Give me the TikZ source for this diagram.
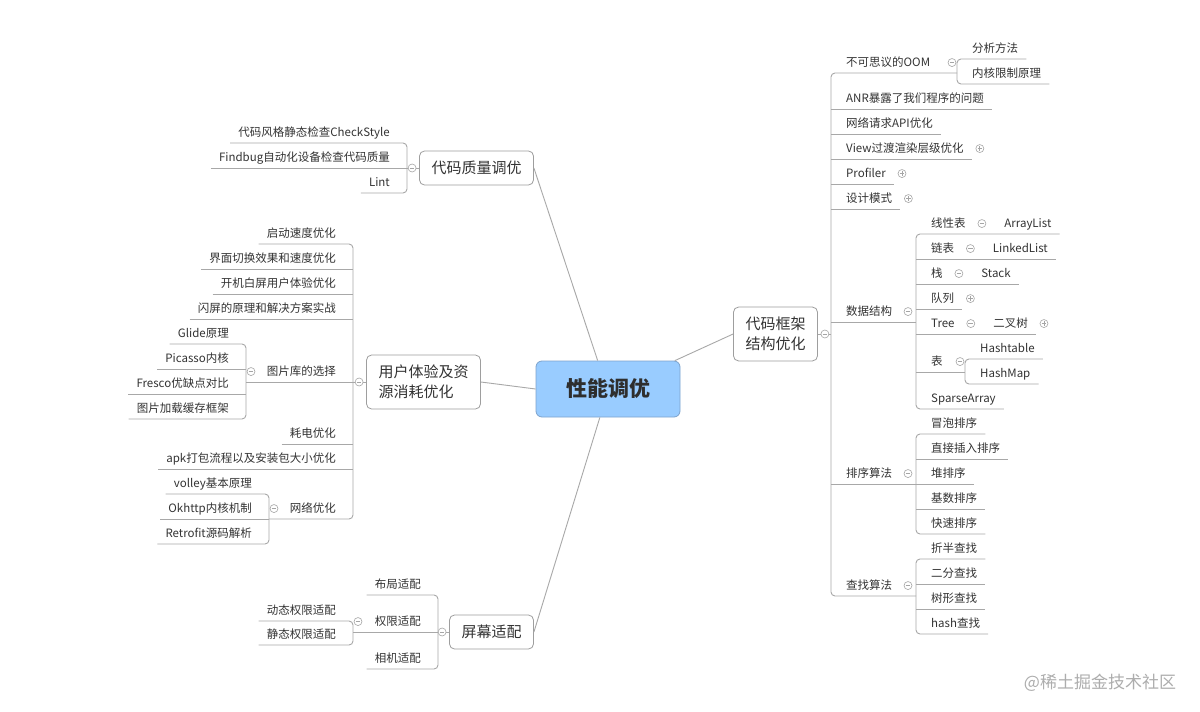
\documentclass[tikz,border=0pt]{standalone}
\usepackage{fontspec}
\setmainfont{Noto Sans CJK SC}
\usetikzlibrary{positioning,calc}
\definecolor{txt}{HTML}{333333}
\definecolor{ln}{HTML}{A8A8A8}
\definecolor{bx}{HTML}{9E9E9E}
\definecolor{fd}{HTML}{A5A5A5}
\definecolor{rootfill}{HTML}{99CCFF}
\definecolor{rootline}{HTML}{7DA3CC}
\tikzset{
  branch/.style={draw=ln, line width=0.9},
  rootbox/.style={draw=rootline, fill=rootfill, rounded corners=6, line width=0.8,
    minimum width=144, minimum height=56, text=txt!90!black,
    font=\fontsize{21}{24}\selectfont\bfseries},
  topic/.style={draw=bx, fill=white, rounded corners=5, line width=0.8, text=txt,
    font=\fontsize{15}{20}\selectfont, inner xsep=12, inner ysep=9, minimum height=34},
  leaf/.style={text=txt, font=\fontsize{11.5}{14}\selectfont,
    inner xsep=8, inner ysep=3, text height=11, text depth=3.5},
  leafL/.style={leaf, anchor=south east},
  leafR/.style={leaf, anchor=south west},
  foldm/.style={circle, draw=fd, fill=white, line width=0.6, inner sep=0, minimum size=8,
    path picture={\draw[fd, line width=0.7] ([xshift=-2.3]path picture bounding box.center)
      -- ([xshift=2.3]path picture bounding box.center);}},
  foldp/.style={circle, draw=fd, fill=white, line width=0.6, inner sep=0, minimum size=8,
    path picture={\draw[fd, line width=0.7] ([xshift=-2.3]path picture bounding box.center)
      -- ([xshift=2.3]path picture bounding box.center)
      ([yshift=-2.3]path picture bounding box.center)
      -- ([yshift=2.3]path picture bounding box.center);}},
  wmark/.style={text=black!32, font=\fontsize{17}{20}\selectfont}
}
\begin{document}
\begin{tikzpicture}[x=1pt,y=-1pt]
\useasboundingbox (0,0) rectangle (1200,712);
\fill[white] (0,0) rectangle (1200,712);

% central topic and main branches
\node[rootbox] (root) at (608,389) {性能调优};
\node[topic] (cq) at (476.5,168) {代码质量调优};
\node[topic, align=left, inner ysep=10] (ux) at (423.5,382) {用户体验及资\\源消耗优化};
\node[topic] (sc) at (491.5,632) {屏幕适配};
\node[topic, align=center, inner ysep=10] (fw) at (775.5,334) {代码框架\\结构优化};

\draw[branch] (root.110) -- (cq.east);
\draw[branch] (root.west) -- (ux.east);
\draw[branch] (root.254) -- (sc.east);
\draw[branch] (root.23) -- (fw.west);

% spines
\coordinate (sQ) at (407,168);
\coordinate (sU) at (353,382);
\coordinate (sP) at (246,382);
\coordinate (sN) at (269,519);
\coordinate (sS) at (438,632);
\coordinate (sA) at (353,632);
\coordinate (sF) at (831,334);
\coordinate (sO) at (957,73);
\coordinate (sD) at (916,322);
\coordinate (sH) at (965,372);
\coordinate (sR) at (916,484);
\coordinate (sK) at (916,596);

% 代码质量调优
\node[leafL] (q1) at (398,143) {代码风格静态检查CheckStyle};
\node[leafL] (q2) at (398,168) {Findbug自动化设备检查代码质量};
\node[leafL] (q3) at (398,193) {Lint};
\draw[branch, rounded corners=4] (q1.south west) -- (q1.south -| sQ) -- (q3.south -| sQ) -- (q3.south west);
\draw[branch] (q2.south west) -- (cq.west);

% 用户体验及资源消耗优化
\node[leafL] (u1) at (344,244) {启动速度优化};
\node[leafL] (u2) at (344,269) {界面切换效果和速度优化};
\node[leafL] (u3) at (344,294) {开机白屏用户体验优化};
\node[leafL] (u4) at (344,319) {闪屏的原理和解决方案实战};
\node[leafL] (u5) at (344,382) {图片库的选择};
\node[leafL] (u6) at (344,444) {耗电优化};
\node[leafL] (u7) at (344,469) {apk打包流程以及安装包大小优化};
\node[leafL] (u8) at (344,519) {网络优化};
\node[leafL] (p1) at (237,344) {Glide原理};
\node[leafL] (p2) at (237,369) {Picasso内核};
\node[leafL] (p3) at (237,394) {Fresco优缺点对比};
\node[leafL] (p4) at (237,419) {图片加载缓存框架};
\node[leafL] (n1) at (260,494) {volley基本原理};
\node[leafL] (n2) at (260,519) {Okhttp内核机制};
\node[leafL] (n3) at (260,544) {Retrofit源码解析};
\draw[branch, rounded corners=4] (u1.south west) -- (u1.south -| sU) -- (u8.south -| sU) -- (u8.south -| sN);
\foreach \n in {u2,u3,u4,u6,u7}
  \draw[branch] (\n.south west) -- (\n.south -| sU);
\draw[branch] (ux.west) -- (sP);
\draw[branch, rounded corners=4] (p1.south west) -- (p1.south -| sP) -- (p4.south -| sP) -- (p4.south west);
\draw[branch] (p2.south west) -- (p2.south -| sP);
\draw[branch] (p3.south west) -- (p3.south -| sP);
\draw[branch, rounded corners=4] (n1.south west) -- (n1.south -| sN) -- (n3.south -| sN) -- (n3.south west);
\draw[branch] (n2.south west) -- (n2.south -| sN);

% 屏幕适配
\node[leafL] (s1) at (429,595) {布局适配};
\node[leafL] (s2) at (429,632) {权限适配};
\node[leafL] (s3) at (429,669) {相机适配};
\node[leafL] (a1) at (344,621) {动态权限适配};
\node[leafL] (a2) at (344,645) {静态权限适配};
\draw[branch, rounded corners=4] (s1.south west) -- (s1.south -| sS) -- (s3.south -| sS) -- (s3.south west);
\draw[branch] (sc.west) -- (sA);
\draw[branch, rounded corners=4] (a1.south west) -- (a1.south -| sA) -- (a2.south -| sA) -- (a2.south west);

% 代码框架结构优化
\node[leafR] (f1) at (838,73) {不可思议的OOM};
\node[leafR] (f2) at (838,109) {ANR暴露了我们程序的问题};
\node[leafR] (f3) at (838,134) {网络请求API优化};
\node[leafR] (f4) at (838,159) {View过渡渲染层级优化};
\node[leafR] (f5) at (838,184) {Profiler};
\node[leafR] (f6) at (838,209) {设计模式};
\node[leafR] (f7) at (838,322) {数据结构};
\node[leafR] (f8) at (838,484) {排序算法};
\node[leafR] (f9) at (838,596) {查找算法};
\node[leafR] (o1) at (964,59) {分析方法};
\node[leafR] (o2) at (964,84) {内核限制原理};
\draw[branch] (fw.east) -- (sF);
\draw[branch, rounded corners=4] (sO |- f1.south) -- (sF |- f1.south) -- (sF |- f9.south) -- (sK |- f9.south);
\foreach \n in {f2,f3,f4,f5,f6}
  \draw[branch] (sF |- \n.south) -- (\n.south east);
\draw[branch] (sF |- f7.south) -- (sD |- f7.south);
\draw[branch] (sF |- f8.south) -- (sR |- f8.south);
\draw[branch, rounded corners=4] (o1.south east) -- (o1.south -| sO) -- (o2.south -| sO) -- (o2.south east);

% 数据结构
\node[leafR] (d1) at (923,234) {线性表};
\node[leafR] (d2) at (923,259) {链表};
\node[leafR] (d3) at (923,284) {栈};
\node[leafR] (d4) at (923,309) {队列};
\node[leafR] (d5) at (923,334) {Tree};
\node[leafR] (d6) at (923,372) {表};
\node[leafR] (d7) at (923,409) {SparseArray};
\node[foldm] (d1f) at ([xshift=8]d1.east) {};
\node[foldm] (d2f) at ([xshift=8]d2.east) {};
\node[foldm] (d3f) at ([xshift=8]d3.east) {};
\node[foldm] (d5f) at ([xshift=8]d5.east) {};
\node[leaf, right=10 of d1f] (d1a) {ArrayList};
\node[leaf, right=10 of d2f] (d2a) {LinkedList};
\node[leaf, right=10 of d3f] (d3a) {Stack};
\node[leaf, right=10 of d5f] (d5a) {二叉树};
\node[leafR] (h1) at (972,359) {Hashtable};
\node[leafR] (h2) at (972,384) {HashMap};
\draw[branch, rounded corners=4] (d1a.south east) -- (sD |- d1.south) -- (sD |- d7.south) -- (d7.south east);
\draw[branch] (sD |- d2.south) -- (d2a.south east);
\draw[branch] (sD |- d3.south) -- (d3a.south east);
\draw[branch] (sD |- d4.south) -- (d4.south east);
\draw[branch] (sD |- d5.south) -- (d5a.south east);
\draw[branch] (sD |- d6.south) -- (sH |- d6.south);
\draw[branch, rounded corners=4] (h1.south east) -- (h1.south -| sH) -- (h2.south -| sH) -- (h2.south east);

% 排序算法
\node[leafR] (r1) at (923,434) {冒泡排序};
\node[leafR] (r2) at (923,459) {直接插入排序};
\node[leafR] (r3) at (923,484) {堆排序};
\node[leafR] (r4) at (923,509) {基数排序};
\node[leafR] (r5) at (923,534) {快速排序};
\draw[branch, rounded corners=4] (r1.south east) -- (sR |- r1.south) -- (sR |- r5.south) -- (r5.south east);
\foreach \n in {r2,r3,r4}
  \draw[branch] (sR |- \n.south) -- (\n.south east);

% 查找算法
\node[leafR] (k1) at (923,559) {折半查找};
\node[leafR] (k2) at (923,584) {二分查找};
\node[leafR] (k3) at (923,609) {树形查找};
\node[leafR] (k4) at (923,634) {hash查找};
\draw[branch, rounded corners=4] (k1.south east) -- (sK |- k1.south) -- (sK |- k4.south) -- (k4.south east);
\draw[branch] (sK |- k2.south) -- (k2.south east);
\draw[branch] (sK |- k3.south) -- (k3.south east);

% fold markers
\node[foldm] (cqf) at ([xshift=-7]cq.west) {};
\node[foldm] (uxf) at ([xshift=-7]ux.west) {};
\node[foldm] (scf) at ([xshift=-7]sc.west) {};
\node[foldm] (fwf) at ([xshift=7]fw.east) {};
\node[foldm] (u5f) at ($(u5.west -| sP)+(5,0)$) {};
\node[foldm] (u8f) at ($(u8.west -| sN)+(5,0)$) {};
\node[foldm] (s2f) at ($(s2.west -| sA)+(5,0)$) {};
\node[foldm] (f1f) at ($(f1.east -| sO)+(-5,0)$) {};
\node[foldm] (f7f) at ($(f7.east -| sD)+(-8,0)$) {};
\node[foldm] (f8f) at ($(f8.east -| sR)+(-8,0)$) {};
\node[foldm] (f9f) at ($(f9.east -| sK)+(-8,0)$) {};
\node[foldm] (d6f) at ($(d6.east -| sH)+(-5,0)$) {};
\node[foldp] (f4p) at ([xshift=8]f4.east) {};
\node[foldp] (f5p) at ([xshift=8]f5.east) {};
\node[foldp] (f6p) at ([xshift=8]f6.east) {};
\node[foldp] (d4p) at ([xshift=8]d4.east) {};
\node[foldp] (d5p) at ([xshift=8]d5a.east) {};

\node[wmark] (wm) at (1100,683) {@稀土掘金技术社区};
\end{tikzpicture}
\end{document}
